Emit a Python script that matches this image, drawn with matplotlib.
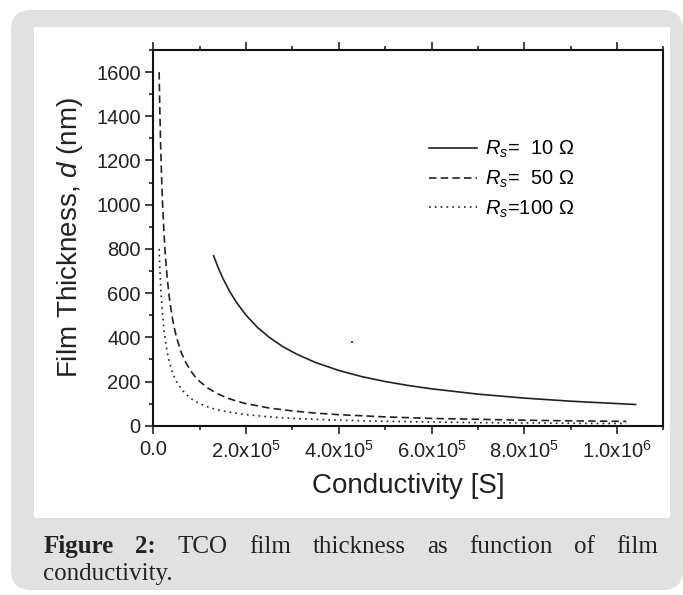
import matplotlib
matplotlib.use("Agg")
import matplotlib.pyplot as plt
from matplotlib.patches import FancyBboxPatch, Rectangle
from matplotlib.ticker import MultipleLocator, FixedLocator, FixedFormatter

plt.rcParams['font.family'] = ['Liberation Sans', 'DejaVu Sans']
plt.rcParams['mathtext.fontset'] = 'custom'
plt.rcParams['mathtext.rm'] = 'Liberation Sans'
plt.rcParams['mathtext.it'] = 'Liberation Sans:italic'
plt.rcParams['mathtext.bf'] = 'Liberation Sans:bold'

# values
sigma_10 = [1.3e5, 1.4e5, 1.5e5, 1.65e5, 1.8e5, 2.0e5, 2.25e5, 2.5e5, 2.8e5, 3.1e5,
            3.5e5, 4.0e5, 4.5e5, 5.0e5, 5.5e5, 6.0e5, 7.0e5, 8.0e5, 9.0e5, 1.04e6]
d_10 = [769, 714, 667, 606, 556, 500, 444, 400, 357, 323,
        286, 250, 222, 200, 182, 167, 143, 125, 111, 96]

sigma_50 = [1.25e4, 1.4e4, 1.6e4, 1.8e4, 2.0e4, 2.3e4, 2.6e4, 3.0e4, 3.5e4, 4.0e4,
            4.5e4, 5.0e4, 6.0e4, 7.0e4, 8.0e4, 9.0e4, 1.0e5, 1.2e5, 1.4e5, 1.6e5,
            1.8e5, 2.0e5, 2.5e5, 3.0e5, 3.5e5, 4.0e5, 5.0e5, 6.0e5, 7.0e5, 8.0e5,
            9.0e5, 1.02e6]
d_50 = [1600, 1429, 1250, 1111, 1000, 870, 769, 667, 571, 500,
        444, 400, 333, 286, 250, 222, 200, 167, 143, 125,
        111, 100, 80, 67, 57, 50, 40, 33, 29, 25,
        22, 19.6]

sigma_100 = sigma_50
d_100 = [800, 714, 625, 556, 500, 435, 385, 333, 286, 250,
         222, 200, 167, 143, 125, 111, 100, 83, 71, 63,
         56, 50, 40, 33, 29, 25, 20, 17, 14, 12.5,
         11, 9.8]

labels = [r'$R_s$=  10 Ω', r'$R_s$=  50 Ω', r'$R_s$=100 Ω']
xticks = [0, 2e5, 4e5, 6e5, 8e5, 1e6]
xticklabels = ['0.0', r'2.0x10$^{5}$', r'4.0x10$^{5}$', r'6.0x10$^{5}$',
               r'8.0x10$^{5}$', r'1.0x10$^{6}$']
stray_x = [4.28e5]
stray_y = [380]

fig = plt.figure(figsize=(6.83, 5.95), dpi=100)
fig.patch.set_facecolor('white')

# grey card + white plot panel (inches)
card = FancyBboxPatch((0.11, 0.05), 6.72, 5.80, boxstyle="round,pad=0,rounding_size=0.2",
                      transform=fig.dpi_scale_trans, facecolor='#e1e1e1', edgecolor='none',
                      zorder=-10)
panel = Rectangle((0.34, 0.767), 6.36, 4.916, transform=fig.dpi_scale_trans,
                  facecolor='white', edgecolor='none', zorder=-9)
fig.patches.extend([card, panel])

ax = fig.add_axes([0.2245, 0.2845, 0.7467, 0.6315])
ax.set_facecolor('none')

ax.plot(sigma_10, d_10, color='#222222', lw=1.2, ls='-', label=labels[0])
ax.plot(sigma_50, d_50, color='#222222', lw=1.2, ls=(0, (4.5, 2.5)), label=labels[1])
ax.plot(sigma_100, d_100, color='#222222', lw=1.2, ls=(0, (1, 2.5)), label=labels[2])
ax.plot(stray_x, stray_y, 's', color='#3030ff', ms=1.5, mew=0)

ax.set_xlim(0, 1.1e6)
ax.set_ylim(0, 1700)
ax.xaxis.set_major_locator(FixedLocator(xticks))
ax.xaxis.set_major_formatter(FixedFormatter(xticklabels))
ax.xaxis.set_minor_locator(MultipleLocator(1e5))
ax.yaxis.set_major_locator(MultipleLocator(200))
ax.yaxis.set_minor_locator(MultipleLocator(100))

for s in ax.spines.values():
    s.set_linewidth(1.5)
    s.set_color('#111111')
ax.tick_params(which='both', direction='out', top=True, right=False, width=1.1, colors='#111111')
ax.tick_params(which='major', length=6)
ax.tick_params(which='minor', length=3)
ax.tick_params(axis='both', labelsize=14.5, labelcolor='#222222')
ax.tick_params(axis='y', pad=3)
ax.tick_params(axis='x', pad=4)

ax.set_xlabel('Conductivity [S]', fontsize=20, color='#222222', labelpad=8)
ax.set_ylabel(r'Film Thickness, $d$ (nm)', fontsize=20, color='#222222', labelpad=8)

ax.legend(loc='upper left', bbox_to_anchor=(0.52, 0.79), frameon=False, fontsize=14.5,
          handlelength=2.4, handletextpad=0.4, labelspacing=0.42, borderpad=0)

# caption, justified first line
renderer = fig.canvas.get_renderer()
words = ['Figure', '2:', 'TCO', 'film', 'thickness', 'as', 'function', 'of', 'film']
weights = ['bold', 'bold'] + ['normal'] * 7
x0, x1 = 0.435, 6.585
texts = []
for w, wt in zip(words, weights):
    t = fig.text(0, 0.423, w, fontsize=18, fontweight=wt, family='Liberation Serif',
                 color='#222222', transform=fig.dpi_scale_trans, va='baseline')
    texts.append(t)
widths = [t.get_window_extent(renderer).width / fig.dpi for t in texts]
gap = (x1 - x0 - sum(widths)) / (len(words) - 1)
x = x0
for t, wd in zip(texts, widths):
    t.set_x(x)
    x += wd + gap
fig.text(0.435, 0.15, 'conductivity.', fontsize=18, family='Liberation Serif',
         color='#222222', transform=fig.dpi_scale_trans, va='baseline')

fig.savefig('out.png', dpi=100, facecolor='white')
